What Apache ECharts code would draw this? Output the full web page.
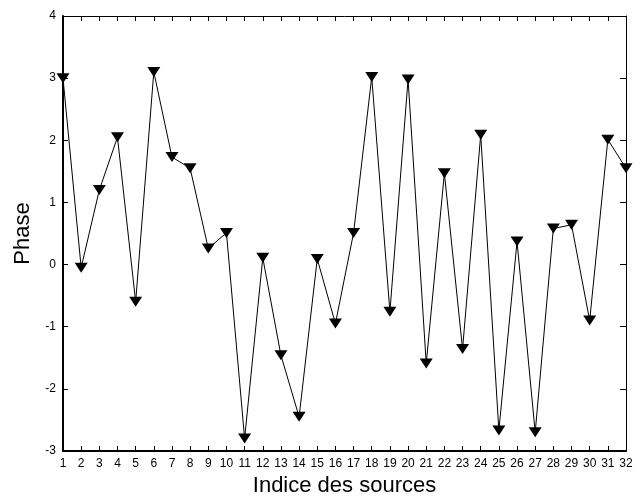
<!DOCTYPE html>
<html>
<head>
<meta charset="utf-8">
<script src="https://cdn.jsdelivr.net/npm/echarts@6/dist/echarts.min.js"></script>
<style>html,body{margin:0;padding:0;background:#fff}#c{width:640px;height:497px}</style>
</head>
<body>
<div id="c"></div>
<script>
const sources = [1,2,3,4,5,6,7,8,9,10,11,12,13,14,15,16,17,18,19,20,21,22,23,24,25,26,27,28,29,30,31,32];
const phase = [3.0,-0.05,1.2,2.05,-0.6,3.1,1.73,1.55,0.26,0.51,-2.8,0.11,-1.46,-2.45,0.09,-0.95,0.51,3.02,-0.76,2.98,-1.59,1.47,-1.36,2.09,-2.67,0.37,-2.7,0.58,0.64,-0.9,2.01,1.55];
const yTicks = [-3,-2,-1,0,1,2,3,4];

const font = 'Liberation Sans, Arial, Helvetica, sans-serif';
const chart = echarts.init(document.getElementById('c'), null, {renderer:'canvas'});
const data = sources.map((s,i)=>[s, phase[i]]);
chart.setOption({
  animation:false,
  backgroundColor:'#fff',
  grid:{left:63, right:14, top:16, bottom:46, containLabel:false, outerBoundsMode:'none'},
  xAxis:[{
    type:'value', min:1, max:32, interval:1,
    name:'Indice des sources', nameLocation:'middle', nameGap:23,
    nameTextStyle:{fontFamily:font, fontSize:22, color:'#000'},
    axisLine:{show:true, onZero:false, lineStyle:{color:'#000', width:2}},
    axisTick:{show:true, inside:true, length:5, lineStyle:{color:'#000', width:1}},
    axisLabel:{fontFamily:font, fontSize:12, color:'#000', margin:7},
    splitLine:{show:false}
  },{
    type:'value', min:1, max:32, interval:1, position:'top',
    axisLine:{show:true, onZero:false, lineStyle:{color:'#000', width:1}},
    axisTick:{show:true, inside:true, length:5, lineStyle:{color:'#000', width:1}},
    axisLabel:{show:false}, splitLine:{show:false}
  }],
  yAxis:[{
    type:'value', min:-3, max:4, interval:1,
    name:'Phase', nameLocation:'middle', nameGap:27,
    nameTextStyle:{fontFamily:font, fontSize:22, color:'#000'},
    axisLine:{show:true, onZero:false, lineStyle:{color:'#000', width:2}},
    axisTick:{show:true, inside:true, length:5, lineStyle:{color:'#000', width:1}},
    axisLabel:{fontFamily:font, fontSize:12, color:'#000', margin:7,
      formatter:v=>yTicks.includes(v)?String(v):''},
    splitLine:{show:false}
  },{
    type:'value', min:-3, max:4, interval:1, position:'right',
    axisLine:{show:true, onZero:false, lineStyle:{color:'#000', width:1}},
    axisTick:{show:true, inside:true, length:6, lineStyle:{color:'#000', width:1}},
    axisLabel:{show:false}, splitLine:{show:false}
  }],
  series:[{
    type:'line', data:data, xAxisIndex:0, yAxisIndex:0,
    clip:false,
    symbol:'triangle', symbolRotate:180, symbolSize:[13,10],
    showAllSymbol:true,
    lineStyle:{color:'#000', width:1},
    itemStyle:{color:'#000', borderWidth:0}
  }]
});
</script>
</body>
</html>
